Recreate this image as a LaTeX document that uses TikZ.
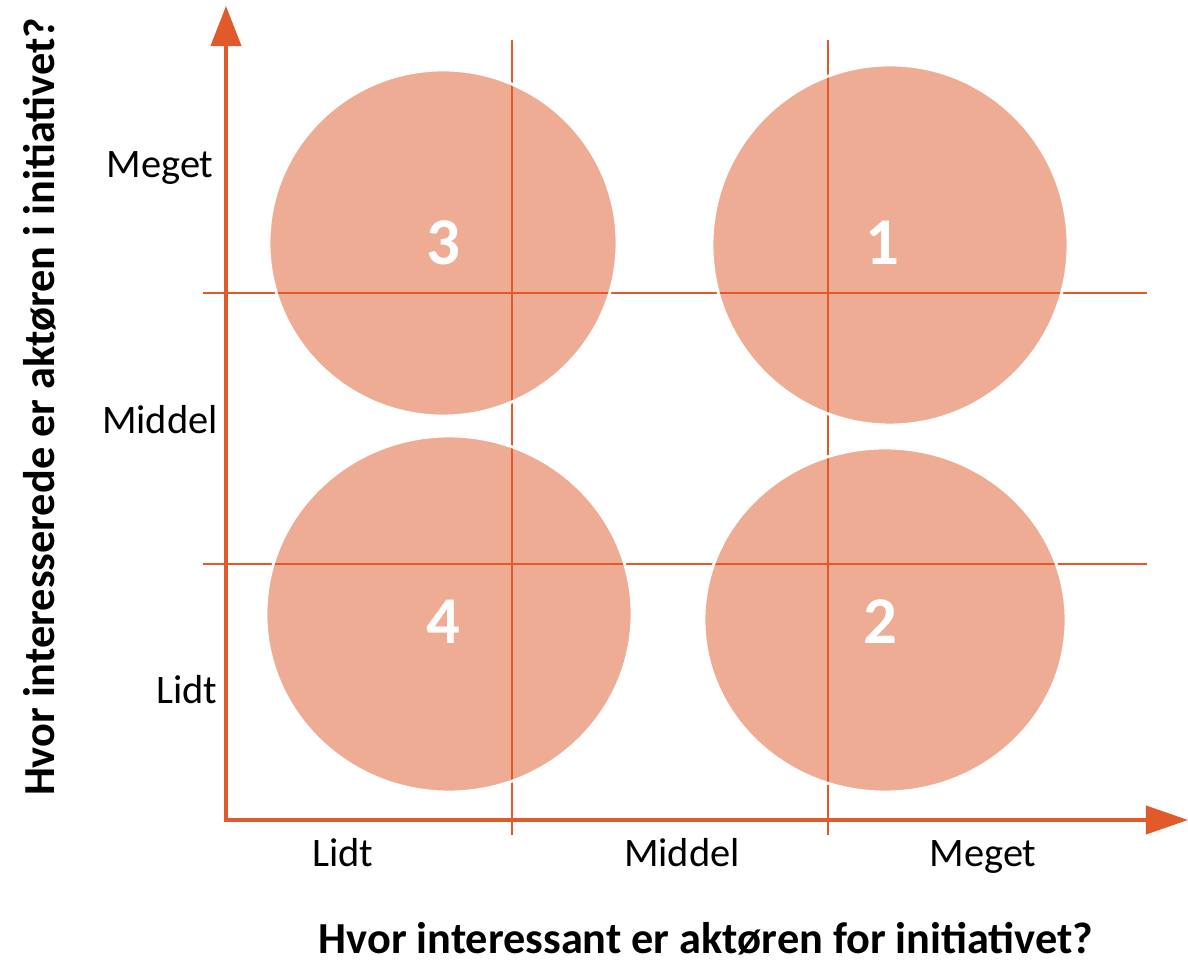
\documentclass[tikz,border=0pt]{standalone}
\usepackage{fontspec}
\setmainfont{Carlito}
\usepackage{xcolor}
\usetikzlibrary{arrows.meta}
\definecolor{akse}{HTML}{E05A2B}
\tikzset{
  rute/.style={akse,line width=0.57pt},
  felt/.style={fill=akse,fill opacity=0.5,draw=white,line width=0.8pt},
  nummer/.style={white,font=\fontsize{19}{19}\bfseries\selectfont},
  etikett/.style={font=\fontsize{11.5}{12}\selectfont,text height=1.6ex,text depth=0.45ex},
  tittel/.style={font=\fontsize{12.6}{14}\bfseries\selectfont,inner sep=0pt}
}

\begin{document}
\begin{tikzpicture}[x=0.01cm,y=-0.01cm]
\useasboundingbox (0,0) rectangle (1188,962);
\draw[rute] (512,40)--(512,835);
\draw[rute] (828,40)--(828,835);
\draw[rute] (203,293)--(1147,293);
\draw[rute] (203,564)--(1147,564);
\filldraw[felt] (443,243) ellipse [x radius=174,y radius=173];
\filldraw[felt] (890,245) ellipse [x radius=178,y radius=180];
\filldraw[felt] (449,614) ellipse [x radius=183,y radius=178];
\filldraw[felt] (885,620) ellipse [x radius=181,y radius=172];
\node[nummer] (n3) at (443,243) {3};
\node[nummer] (n1) at (882,243) {1};
\node[nummer] (n4) at (443,622) {4};
\node[nummer] (n2) at (880,622) {2};
\draw[akse,line width=1.13pt,line join=miter,{Triangle[length=0.4cm,width=0.3cm]}-{Triangle[length=0.42cm,width=0.28cm]}]
  (226,6)--(226,820)--(1188,820);
\node[etikett] (ymeget) at (160,168) {Meget};
\node[etikett] (ymiddel) at (160,424) {Middel};
\node[etikett] (ylidt) at (187,694) {Lidt};
\node[etikett] (xlidt) at (343,857) {Lidt};
\node[etikett] (xmiddel) at (682,857) {Middel};
\node[etikett] (xmeget) at (983,857) {Meget};
\node[tittel,rotate=90] (ytittel) at (40,407) {Hvor interesserede er aktøren i initiativet?};
\node[tittel,anchor=base] (xtittel) at (706,954) {Hvor interessant er aktøren for initiativet?};
\end{tikzpicture}
\end{document}
